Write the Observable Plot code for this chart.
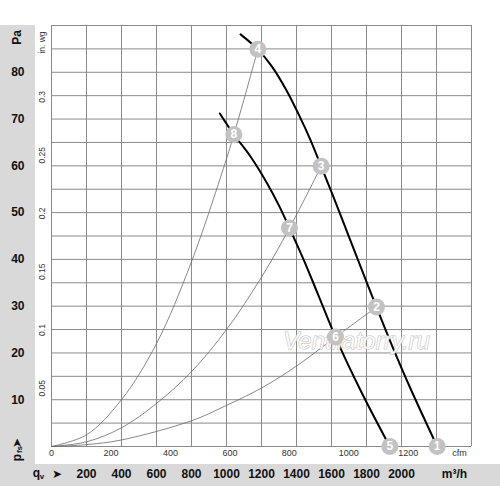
<!DOCTYPE html>
<html><head><meta charset="utf-8">
<script src="https://cdn.jsdelivr.net/npm/d3@7"></script>
<script src="https://cdn.jsdelivr.net/npm/@observablehq/plot@0.6"></script>
<style>
body{margin:0;background:#fff;}
#wrap{position:relative;width:500px;height:486px;overflow:hidden;}
.band-left{position:absolute;left:0;top:25px;width:35px;height:461px;background:#d9d9d9;}
.band-bottom{position:absolute;left:0;top:464px;width:500px;height:22px;background:#d9d9d9;}
#chart{position:absolute;left:0;top:0;}
</style></head><body>
<div id="wrap"><div class="band-left"></div><div class="band-bottom"></div><div id="chart"></div></div>
<script>
// ---- tick labels / grid ----
const gridQ = [0,200,400,600,800,1000,1200,1400,1600,1800,2000,2200,2400];
const gridPa = [0,5,10,15,20,25,30,35,40,45,50,55,60,65,70,75,80,85,90];
const m3hTicks = [200,400,600,800,1000,1200,1400,1600,1800,2000];
const paTicks = [10,20,30,40,50,60,70,80];
const inwgTicks = [0.05,0.1,0.15,0.2,0.25,0.3];
const inwgLabels = ["0.05","0.1","0.15","0.2","0.25","0.3"];
const cfmTicks = [0,200,400,600,800,1000,1200];
const PA_PER_INWG = 249.089;
const M3H_PER_CFM = 1.699;

// ---- fan characteristic curves (m³/h, Pa) ----
const fan1Q  = [1080,1179,1260,1340,1420,1480,1541,1620,1700,1780,1857,1950,2050,2204];
const fan1Pa = [88.1,84.9,81.2,76.3,70.4,65.5,59.9,52.5,44.8,37.1,29.8,21.2,12.5,0];
const fan2Q  = [962,1042,1137,1230,1300,1360,1440,1520,1623,1770,1933];
const fan2Pa = [71.2,66.7,62.0,56.4,51.5,46.7,40.0,32.8,23.4,11.7,0];

// ---- system (resistance) curves ----
const sysAQ  = [0,200,400,600,800,1000,1042,1100,1179];
const sysAPa = [0,2.5,10,22,39.5,61.5,66.7,74.2,84.9];
const sysBQ  = [0,200,400,600,800,1000,1200,1360,1541];
const sysBPa = [0,1.0,4.0,9.2,16.0,25.0,36.2,46.7,59.9];
const sysCQ  = [0,200,400,800,1000,1200,1400,1623,1857];
const sysCPa = [0,0.4,1.4,5.5,8.8,12.5,17.2,23.4,29.8];

// ---- numbered operating points ----
const pointIds = ["1","2","3","4","5","6","7","8"];
const pointQ   = [2204,1857,1541,1179,1933,1623,1360,1042];
const pointPa  = [0,29.8,59.9,84.9,0,23.4,46.7,66.7];

const watermarkText = "Ventilatorry.ru";
const watermarkQ = 1743, watermarkPa = 22.4;

const zip = (qs, ps, s) => qs.map((q, i) => ({q, pa: ps[i], s}));
const fans = [...zip(fan1Q, fan1Pa, "f1"), ...zip(fan2Q, fan2Pa, "f2")];
const systems = [...zip(sysAQ, sysAPa, "a"), ...zip(sysBQ, sysBPa, "b"), ...zip(sysCQ, sysCPa, "c")];
const points = pointIds.map((id, i) => ({id, q: pointQ[i], pa: pointPa[i]}));

const font = "'Liberation Sans', Arial, sans-serif";
const C = {textAnchor: "middle", lineAnchor: "middle"};
const bold = {fontWeight: "bold", fontSize: 12, fill: "#111"};

const chart = Plot.plot({
  width: 500, height: 486,
  marginLeft: 51, marginTop: 25, marginRight: 29, marginBottom: 40,
  x: {domain: [0, 2400], axis: null},
  y: {domain: [0, 90], axis: null},
  style: {background: "transparent", fontFamily: font, overflow: "visible"},
  marks: [
    Plot.ruleX(gridQ, {x: d => d, stroke: "#8a8a8a", strokeWidth: 1}),
    Plot.ruleY(gridPa, {y: d => d, stroke: "#8a8a8a", strokeWidth: 1}),
    Plot.line(systems, {x: "q", y: "pa", z: "s", curve: "catmull-rom", stroke: "#6a6a6a", strokeWidth: 0.8}),
    Plot.line(fans, {x: "q", y: "pa", z: "s", curve: "catmull-rom", stroke: "#000", strokeWidth: 2}),
    Plot.text([watermarkText], {x: () => watermarkQ, y: () => watermarkPa, text: d => d, ...C, fontSize: 24, fontStyle: "italic", fill: "white", stroke: "#bdbdbd", strokeWidth: 1, fillOpacity: 0.85, style: "letter-spacing:1.5px"}),
    Plot.dot(points, {x: "q", y: "pa", r: 8.5, fill: "#c2c2c2", stroke: "none"}),
    Plot.text(points, {x: "q", y: "pa", text: "id", ...C, fill: "white", fontWeight: "bold", fontSize: 12}),
    // Pa axis (left gray band)
    Plot.text(paTicks, {y: d => d, text: d => String(d), frameAnchor: "left", dx: -27, textAnchor: "end", lineAnchor: "middle", ...bold}),
    Plot.text(["Pa"], {frameAnchor: "top-left", dx: -34, dy: 12, rotate: -90, ...C, ...bold}),
    Plot.text(["p"], {frameAnchor: "bottom-left", dx: -34, dy: 11, rotate: -90, ...C, ...bold}),
    Plot.text(["fs"], {frameAnchor: "bottom-left", dx: -32, dy: 3, rotate: -90, ...C, fontWeight: "bold", fontSize: 8, fill: "#111"}),
    Plot.text(["➤"], {frameAnchor: "bottom-left", dx: -34, dy: -4, rotate: -90, ...C, fontSize: 12, fill: "#111"}),
    // in. wg axis
    Plot.text(inwgTicks, {y: d => d * PA_PER_INWG, text: (d, i) => inwgLabels[i], frameAnchor: "left", dx: -9, rotate: -90, ...C, fontSize: 8.5, fill: "#333"}),
    Plot.text(["in. wg"], {frameAnchor: "top-left", dx: -9, dy: 17, rotate: -90, ...C, fontSize: 8.5, fill: "#333"}),
    // cfm axis
    Plot.text(cfmTicks, {x: d => d * M3H_PER_CFM, text: d => String(d), frameAnchor: "bottom", dy: 7, ...C, fontSize: 9, fill: "#333"}),
    Plot.text(["cfm"], {frameAnchor: "bottom-right", dx: -12, dy: 7, ...C, fontSize: 9, fill: "#333"}),
    // m³/h axis (bottom gray band)
    Plot.text(m3hTicks, {x: d => d, text: d => String(d), frameAnchor: "bottom", dy: 28, ...C, ...bold}),
    Plot.text(["m³/h"], {frameAnchor: "bottom-right", dx: -17, dy: 28, ...C, ...bold}),
    Plot.text(["q"], {frameAnchor: "bottom-left", dx: -15, dy: 27, ...C, ...bold}),
    Plot.text(["v"], {frameAnchor: "bottom-left", dx: -9.5, dy: 30, ...C, fontWeight: "bold", fontSize: 8, fill: "#111"}),
    Plot.text(["➤"], {frameAnchor: "bottom-left", dx: 5.5, dy: 28, ...C, fontSize: 12, fill: "#111"})
  ]
});
document.getElementById("chart").appendChild(chart);
</script>
</body></html>
